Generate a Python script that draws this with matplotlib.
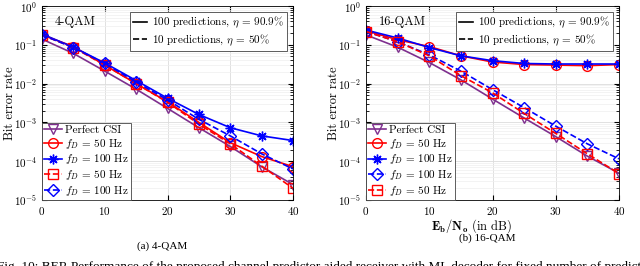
import matplotlib
matplotlib.use("Agg")
import matplotlib.pyplot as plt
from matplotlib.lines import Line2D

plt.rcParams['font.family'] = 'serif'
plt.rcParams['font.serif'] = ['cmr10', 'DejaVu Serif']
plt.rcParams['mathtext.fontset'] = 'cm'
plt.rcParams['axes.formatter.use_mathtext'] = True

snr = [0, 5, 10, 15, 20, 25, 30, 35, 40]

# 4-QAM
qam4_perfect = [0.14, 0.06, 0.021, 0.0072, 0.0023, 0.00073, 0.00024, 7.2e-5, 2.5e-5]
qam4_50_100p = [0.18, 0.09, 0.03, 0.010, 0.0034, 0.0010, 0.0003, 0.000132, 7.2e-5]
qam4_100_100p = [0.19, 0.087, 0.034, 0.012, 0.0042, 0.0016, 0.00073, 0.00045, 0.00034]
qam4_50_10p = [0.18, 0.085, 0.03, 0.010, 0.0033, 0.0009, 0.00028, 7.5e-5, 2.0e-5]
qam4_100_10p = [0.18, 0.085, 0.033, 0.011, 0.0038, 0.0012, 0.00045, 0.000155, 6.3e-5]

# 16-QAM
qam16_perfect = [0.18, 0.087, 0.035, 0.0125, 0.004, 0.0013, 0.00043, 0.000135, 4.9e-5]
qam16_50_100p = [0.23, 0.135, 0.09, 0.052, 0.036, 0.031, 0.030, 0.029, 0.031]
qam16_100_100p = [0.24, 0.15, 0.085, 0.052, 0.039, 0.033, 0.032, 0.032, 0.032]
qam16_100_10p = [0.22, 0.12, 0.055, 0.021, 0.007, 0.0024, 0.0008, 0.00028, 0.000115]
qam16_50_10p = [0.22, 0.12, 0.052, 0.016, 0.0058, 0.0017, 0.00052, 0.000155, 4.8e-5]

purple = '#7E2F8E'
fd50 = r'$f_D$ = 50 Hz'
fd100 = r'$f_D$ = 100 Hz'

fig = plt.figure(figsize=(6.4, 2.66), dpi=100)
ax1 = fig.add_axes([42/640, 66/266, 251/640, 194/266])
ax2 = fig.add_axes([366/640, 66/266, 253/640, 194/266])

mk = dict(markersize=7, markerfacecolor='none', linewidth=1.2, markeredgewidth=1.0)
star = dict(marker=(8, 2, 0), markersize=7, linewidth=1.2, markeredgewidth=1.0)
dia = dict(marker='D', markersize=6, markerfacecolor='none', linewidth=1.2, markeredgewidth=1.0)

def style(ax, title, ylab_x):
    ax.set_yscale('log')
    ax.set_xlim(0, 40)
    ax.set_ylim(1e-5, 1)
    ax.set_xticks([0, 10, 20, 30, 40])
    ax.grid(True, which='major', color='#dcdcdc', linewidth=0.6)
    ax.grid(True, which='minor', color='#eeeeee', linewidth=0.5)
    ax.tick_params(which='both', direction='in', top=True, right=True, labelsize=8)
    ax.set_ylabel('Bit error rate', fontsize=9)
    ax.yaxis.set_label_coords(ylab_x, 0.5)
    ax.text(0.05, 0.9, title, transform=ax.transAxes, fontsize=9)
    pred = [Line2D([], [], color='k', ls='-', lw=1.2),
            Line2D([], [], color='k', ls='--', lw=1.2)]
    leg = ax.legend(pred, [r'100 predictions, $\eta$ = 90.9%', r'10 predictions, $\eta$ = 50%'],
                    loc='upper right', fontsize=8, handlelength=1.3, handletextpad=0.4,
                    borderpad=0.3, labelspacing=0.2, fancybox=False,
                    edgecolor='#444444', framealpha=1)
    leg.get_frame().set_linewidth(0.6)
    ax.add_artist(leg)
    for s in ax.spines.values():
        s.set_linewidth(0.6)

def bottom_legend(ax):
    lg = ax.legend(loc='lower left', fontsize=8, handlelength=1.6, borderpad=0.2,
                   labelspacing=0.15, handletextpad=0.3, borderaxespad=0.0,
                   fancybox=False, edgecolor='#444444', framealpha=1)
    lg.get_frame().set_linewidth(0.6)

# left panel
ax1.plot(snr, qam4_perfect, color=purple, marker='v', label='Perfect CSI', **mk)
ax1.plot(snr, qam4_50_100p, color='r', marker='o', label=fd50, **mk)
ax1.plot(snr, qam4_100_100p, color='b', label=fd100, **star)
ax1.plot(snr, qam4_50_10p, color='r', marker='s', ls='--', label=fd50, **mk)
ax1.plot(snr, qam4_100_10p, color='b', ls='--', label=fd100, **dia)
style(ax1, '4-QAM', (16 - 42) / 251)
bottom_legend(ax1)

# right panel
ax2.plot(snr, qam16_perfect, color=purple, marker='v', label='Perfect CSI', **mk)
ax2.plot(snr, qam16_50_100p, color='r', marker='o', label=fd50, **mk)
ax2.plot(snr, qam16_100_100p, color='b', label=fd100, **star)
ax2.plot(snr, qam16_100_10p, color='b', ls='--', label=fd100, **dia)
ax2.plot(snr, qam16_50_10p, color='r', marker='s', ls='--', label=fd50, **mk)
style(ax2, '16-QAM', (340 - 366) / 253)
ax2.set_xlabel(r'$\mathbf{E_b/N_o}$ (in dB)', fontsize=9, fontweight='bold', labelpad=0)
ax2.xaxis.label.set_x((472 - 366) / 253)
bottom_legend(ax2)

fig.text(162/640, 1 - 246/266, '(a) 4-QAM', ha='center', va='center',
         fontsize=8, family='Liberation Serif')
fig.text(487/640, 1 - 238/266, '(b) 16-QAM', ha='center', va='center',
         fontsize=8, family='Liberation Serif')
fig.text(-3/640, 1 - 267/266, 'Fig. 10: BER Performance of the proposed channel predictor aided receiver '
         'with ML decoder for fixed number of predictions', ha='left', va='center',
         fontsize=9.5, family='Liberation Serif')

fig.savefig('out.png', dpi=100)
